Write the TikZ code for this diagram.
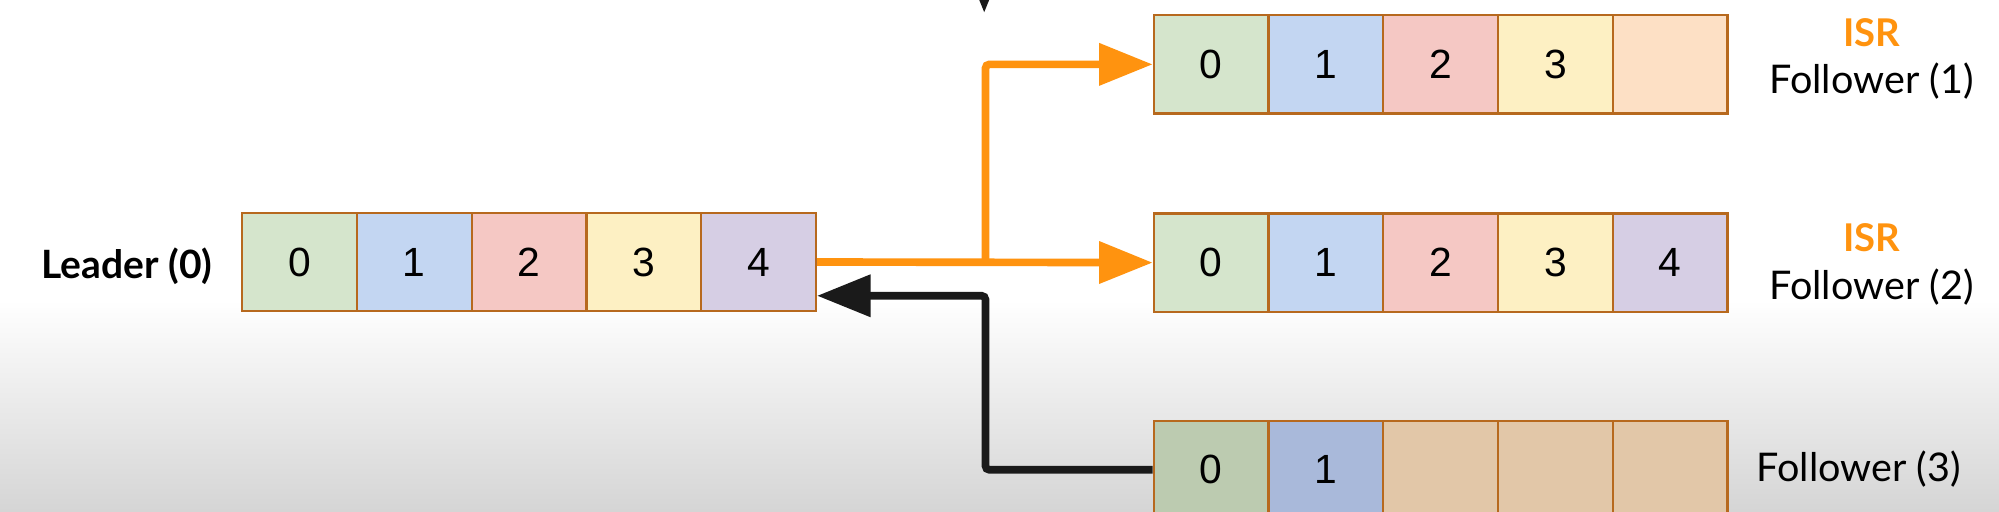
\documentclass[tikz,border=0pt]{standalone}
\usepackage{fontspec}
\setmainfont{Lato}
\newfontfamily\digitfont{Liberation Sans}
\usetikzlibrary{arrows.meta}
\definecolor{cellborder}{HTML}{B7691E}
\definecolor{isrorange}{HTML}{FF930F}
\definecolor{arrowblack}{HTML}{1A1A1A}
\definecolor{cgreen}{HTML}{D5E5CC}
\definecolor{cblue}{HTML}{C3D6F2}
\definecolor{cred}{HTML}{F5C8C4}
\definecolor{cyellow}{HTML}{FDF0C3}
\definecolor{cpurple}{HTML}{D6CEE4}
\definecolor{cpeach}{HTML}{FDE0C5}
\definecolor{dgreen}{HTML}{BCCBB0}
\definecolor{dblue}{HTML}{A9B9DA}
\definecolor{dtan}{HTML}{E2C7A8}
\definecolor{bggray}{HTML}{D5D5D5}
\tikzset{
  cell/.style={draw=cellborder, line width=0.9pt, minimum width=45pt, minimum height=38.5pt,
    inner sep=0pt, font=\digitfont\fontsize{16}{18}\selectfont, text=black},
  orangearrow/.style={draw=isrorange, line width=3pt, rounded corners=1.5pt,
    -{Triangle[length=21pt,width=16pt]}},
  blackarrow/.style={draw=arrowblack, line width=3pt, rounded corners=1.5pt,
    -{Triangle[length=21pt,width=16pt]}},
  lbl/.style={inner sep=0pt, font=\fontsize{15.5}{18}\selectfont, text=black},
  isrlbl/.style={inner sep=0pt, font=\bfseries\fontsize{15}{18}\selectfont, text=isrorange},
}
\begin{document}
\begin{tikzpicture}[x=0.5pt,y=-0.5pt]
\useasboundingbox (0,0) rectangle (1568,401);
\clip (0,0) rectangle (1568,401);
\fill[white] (0,0) rectangle (1568,401);
\shade[top color=white, bottom color=bggray] (0,235) rectangle (1568,401);

% leader row
\node[cell, fill=cgreen]  (L0) at (235,205.5) {0};
\node[cell, fill=cblue]   (L1) at (325,205.5) {1};
\node[cell, fill=cred]    (L2) at (415,205.5) {2};
\node[cell, fill=cyellow] (L3) at (505,205.5) {3};
\node[cell, fill=cpurple] (L4) at (595,205.5) {4};

% follower 1
\node[cell, fill=cgreen]  (A0) at (950,50.5) {0};
\node[cell, fill=cblue]   (A1) at (1040,50.5) {1};
\node[cell, fill=cred]    (A2) at (1130,50.5) {2};
\node[cell, fill=cyellow] (A3) at (1220,50.5) {3};
\node[cell, fill=cpeach]  (A4) at (1310,50.5) {};

% follower 2
\node[cell, fill=cgreen]  (B0) at (950,206) {0};
\node[cell, fill=cblue]   (B1) at (1040,206) {1};
\node[cell, fill=cred]    (B2) at (1130,206) {2};
\node[cell, fill=cyellow] (B3) at (1220,206) {3};
\node[cell, fill=cpurple] (B4) at (1310,206) {4};

% follower 3
\node[cell, fill=dgreen] (C0) at (950,368.5) {0};
\node[cell, fill=dblue]  (C1) at (1040,368.5) {1};
\node[cell, fill=dtan]   (C2) at (1130,368.5) {};
\node[cell, fill=dtan]   (C3) at (1220,368.5) {};
\node[cell, fill=dtan]   (C4) at (1310,368.5) {};

% labels
\node[lbl, font=\bfseries\fontsize{15.3}{18}\selectfont, anchor=base east] (leader) at (167,218.6) {Leader (0)};
\node[isrlbl, anchor=base] (isr1) at (1468,36.6) {ISR};
\node[lbl, anchor=base] (f1) at (1468,73.5) {Follower (1)};
\node[isrlbl, anchor=base] (isr2) at (1468,197.4) {ISR};
\node[lbl, anchor=base] (f2) at (1468,235) {Follower (2)};
\node[lbl, anchor=base] (f3) at (1458,377.8) {Follower (3)};

% connectors
\coordinate (split) at (773,206);
\coordinate (bend) at (773,232);
\coordinate (tsrc) at (772,-60);
\coordinate (ttip) at (772,10);
\draw[orangearrow] (L4.east) -- (B0.west);
\draw[orangearrow] (split) |- (A0.west);
\draw[blackarrow] (C0.west) -| (bend) -- (bend -| L4.east);
\draw[blackarrow] (tsrc) -- (ttip);
\end{tikzpicture}
\end{document}
